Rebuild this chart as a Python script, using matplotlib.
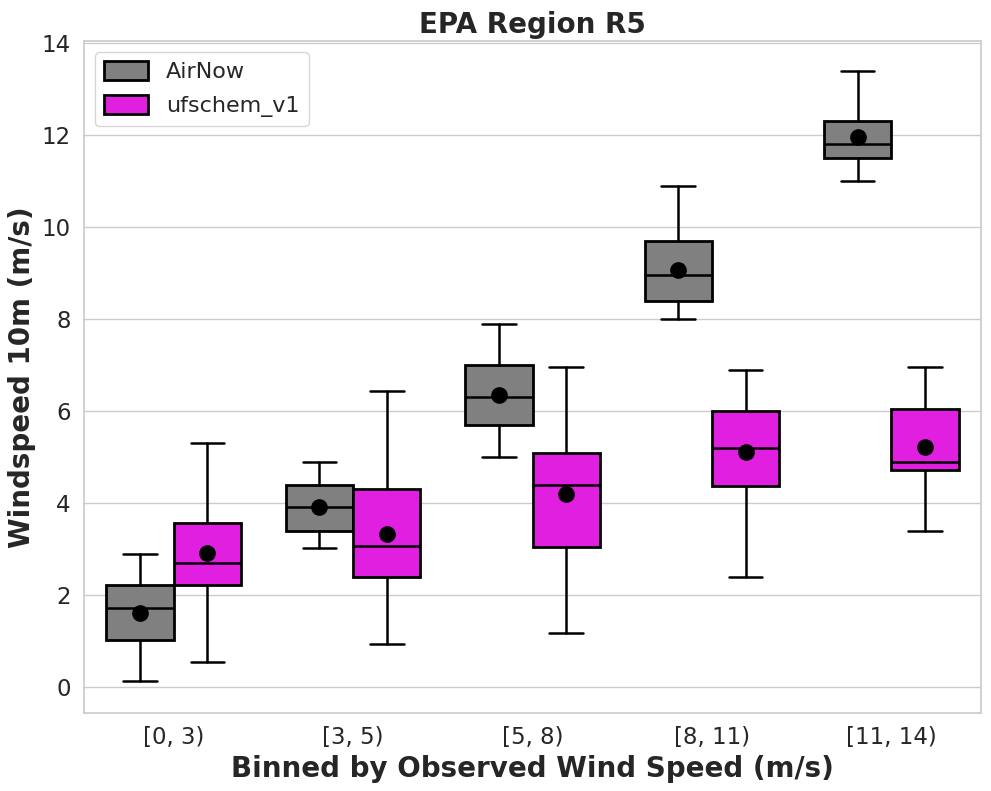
"""Box plots of 10m wind speed, binned by observed wind speed."""

import numpy as np
import matplotlib
matplotlib.use("Agg")
import matplotlib.pyplot as plt
import seaborn as sns
from matplotlib.patches import Patch

bins = ["[0, 3)", "[3, 5)", "[5, 8)", "[8, 11)", "[11, 14)"]
models = ["AirNow", "ufschem_v1"]
colors = ["#808080", "#e01fe0"]

# per bin: whislo, q1, med, q3, whishi, mean
airnow_lo = [0.12, 3.01, 5.01, 8.00, 11.01]
airnow_q1 = [1.02, 3.40, 5.70, 8.40, 11.51]
airnow_med = [1.71, 3.91, 6.31, 8.96, 11.81]
airnow_q3 = [2.21, 4.40, 7.01, 9.70, 12.31]
airnow_hi = [2.90, 4.90, 7.90, 10.90, 13.40]
airnow_mean = [1.61, 3.92, 6.35, 9.07, 11.96]

ufs_lo = [0.53, 0.94, 1.17, 2.38, 3.38]
ufs_q1 = [2.21, 2.40, 3.05, 4.37, 4.71]
ufs_med = [2.69, 3.06, 4.40, 5.20, 4.90]
ufs_q3 = [3.57, 4.31, 5.09, 6.01, 6.05]
ufs_hi = [5.31, 6.44, 6.96, 6.90, 6.96]
ufs_mean = [2.91, 3.33, 4.20, 5.10, 5.22]

series = [
    (airnow_lo, airnow_q1, airnow_med, airnow_q3, airnow_hi, airnow_mean),
    (ufs_lo, ufs_q1, ufs_med, ufs_q3, ufs_hi, ufs_mean),
]

sns.set_theme(style="whitegrid")

fig, ax = plt.subplots(figsize=(9.91, 7.91), dpi=100)
fig.subplots_adjust(left=0.0848, right=0.9899, top=0.948, bottom=0.0986)

width = 0.75
w = width / 2
x = np.arange(len(bins))

for i, (lo, q1, med, q3, hi, mean) in enumerate(series):
    stats = [
        dict(whislo=lo[k], q1=q1[k], med=med[k], q3=q3[k], whishi=hi[k], fliers=[])
        for k in range(len(bins))
    ]
    pos = x - w / 2 + i * w
    ax.bxp(
        stats, positions=pos, widths=w, patch_artist=True, showfliers=False,
        boxprops=dict(facecolor=colors[i], edgecolor="black", linewidth=2),
        medianprops=dict(color="black", linewidth=1.8),
        whiskerprops=dict(color="black", linewidth=1.8),
        capprops=dict(color="black", linewidth=1.8),
        manage_ticks=False, zorder=3,
    )
    ax.plot(pos, mean, "o", color="black", markersize=11, zorder=5)

ax.set_xlim(-0.5, 4.5)
ax.set_ylim(-0.57, 14.05)
ax.set_xticks(x)
ax.set_xticklabels(bins, fontsize=16.5)
ax.tick_params(axis="y", labelsize=16.5)
ax.xaxis.grid(False)
ax.set_axisbelow(True)

ax.set_title("EPA Region R5", fontsize=20, fontweight="bold")
ax.set_xlabel("Binned by Observed Wind Speed (m/s)", fontsize=20, fontweight="bold")
ax.set_ylabel("Windspeed 10m (m/s)", fontsize=20, fontweight="bold")

handles = [Patch(facecolor=c, edgecolor="black", linewidth=2, label=m) for c, m in zip(colors, models)]
ax.legend(handles=handles, loc="upper left", fontsize=16, labelspacing=0.6, handleheight=0.9)

plt.savefig("out.png", dpi=100)
